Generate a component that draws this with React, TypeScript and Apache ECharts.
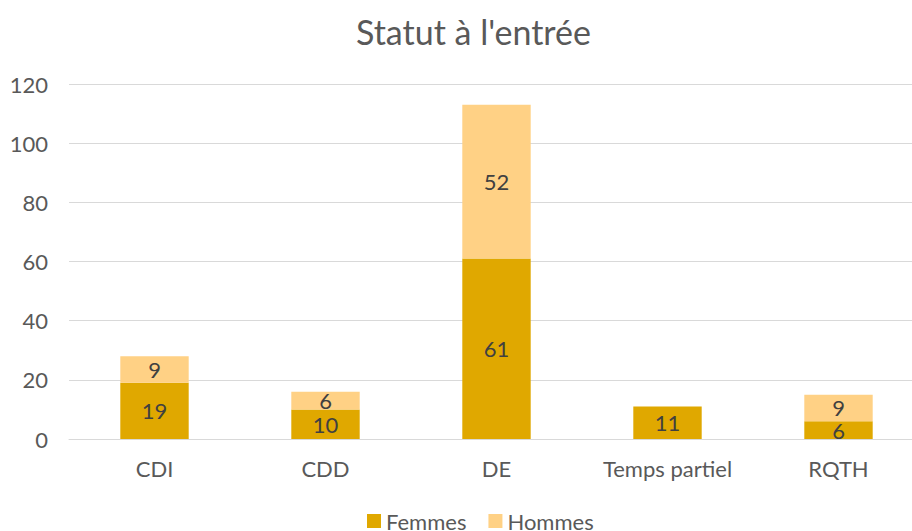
import React, { useEffect, useRef } from "react";
import * as echarts from "echarts";

const categories = ["CDI", "CDD", "DE", "Temps partiel", "RQTH"];
const femmes = [19, 10, 61, 11, 6];
const hommes: (number | null)[] = [9, 6, 52, null, 9];
const yTicks = { min: 0, max: 120, interval: 20 };

const FONT = "Lato, 'Open Sans', sans-serif";

export default function App() {
  const ref = useRef<HTMLDivElement>(null);
  useEffect(() => {
    if (!ref.current) return;
    const chart = echarts.init(ref.current, undefined, { renderer: "svg" });
    chart.setOption({
      animation: false,
      title: {
        text: "Statut à l'entrée",
        left: 351,
        top: 9,
        textStyle: { fontFamily: FONT, fontSize: 34, fontWeight: "normal", color: "#595959" },
      },
      legend: {
        top: 505,
        left: 362,
        itemWidth: 14,
        itemHeight: 14,
        itemGap: 22,
        icon: "rect",
        textStyle: { fontFamily: FONT, fontSize: 22, color: "#595959" },
        data: ["Femmes", "Hommes"],
      },
      grid: { left: 69, top: 84, width: 855, height: 355, containLabel: false },
      xAxis: {
        type: "category",
        data: categories,
        axisLine: { show: true, lineStyle: { color: "#d9d9d9", width: 1 } },
        axisTick: { show: false },
        axisLabel: { fontFamily: FONT, fontSize: 22, color: "#595959", margin: 18 },
      },
      yAxis: {
        type: "value",
        min: yTicks.min,
        max: yTicks.max,
        interval: yTicks.interval,
        axisLine: { show: false },
        axisTick: { show: false },
        splitLine: { lineStyle: { color: "#d9d9d9", width: 1 } },
        axisLabel: { fontFamily: FONT, fontSize: 22, color: "#595959", margin: 21 },
      },
      series: [
        {
          name: "Femmes",
          type: "bar",
          stack: "s",
          data: femmes,
          barWidth: "40%",
          itemStyle: { color: "#E0A800" },
          label: { show: true, position: "inside", fontFamily: FONT, fontSize: 22, color: "#404040" },
        },
        {
          name: "Hommes",
          type: "bar",
          stack: "s",
          data: hommes,
          barWidth: "40%",
          itemStyle: { color: "#FFD185" },
          label: { show: true, position: "inside", fontFamily: FONT, fontSize: 22, color: "#404040" },
        },
      ],
    });
    return () => chart.dispose();
  }, []);
  return (
    <div style={{ position: "absolute", left: 0, top: 0, width: 912, height: 531, overflow: "hidden" }}>
      <div ref={ref} style={{ width: 930, height: 531 }} />
    </div>
  );
}
